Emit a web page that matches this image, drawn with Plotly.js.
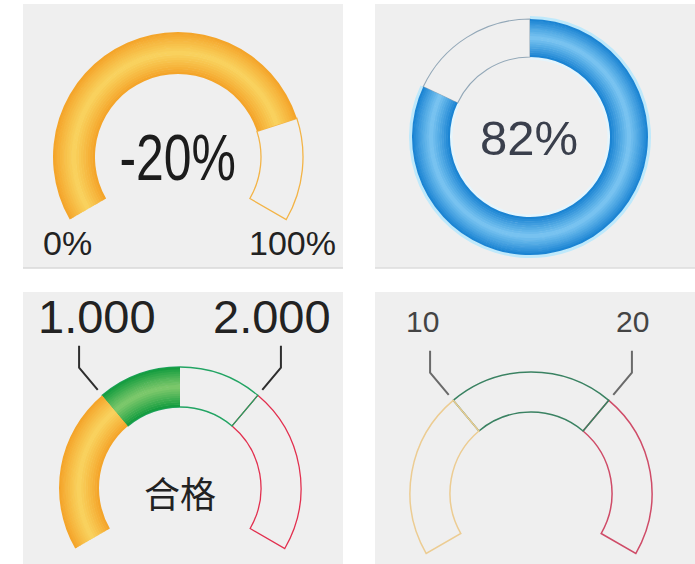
<!DOCTYPE html>
<html><head><meta charset="utf-8">
<script src="https://cdn.plot.ly/plotly-3.0.1.min.js"></script>
<style>html,body{margin:0;padding:0;background:#fff}#chart{width:695px;height:564px}</style>
</head><body><div id="chart"></div>
<script>
// ---------- data ----------
const g1Range = [0, 100];
const g1Value = [80];
const g1EndLabels = ['0%', '100%'];
const g1CenterText = ['-20%'];

const g2Range = [0, 100];
const g2Value = [82];
const g2CenterText = ['82%'];

const g3Range = [0, 3];
const g3Thresholds = [1, 2];
const g3Value = [1.5];
const g3TickLabels = ['1.000', '2.000'];
const g3CenterText = ['合格'];

const g4Range = [0, 30];
const g4Thresholds = [10, 20];
const g4TickLabels = ['10', '20'];

// ---------- geometry / style ----------
const W = 695, H = 564, ARC = 240, START = 210, EXT = 3;
const geo1 = {cx: 178, cy: 157, rIn: 83, rOut: 125};
const geo2 = {cx: 530, cy: 137, rIn: 80, rOut: 118};
const geo3 = {cx: 180, cy: 488, rIn: 81, rOut: 121};
const geo4 = {cx: 531, cy: 493, rIn: 81, rOut: 121};

function hex(c){return [parseInt(c.substr(1,2),16),parseInt(c.substr(3,2),16),parseInt(c.substr(5,2),16)];}
function mix(a,b,t){const A=hex(a),B=hex(b);return 'rgb('+A.map((v,i)=>Math.round(v+(B[i]-v)*t)).join(',')+')';}

function gradTrace(sub,a0,a1,rIn,rOut,edge,mid,n){
  n=n||18;
  const th=[],wd=[],bs=[],rr=[],cl=[];
  const step=(rOut-rIn)/n;
  for(let i=0;i<n;i++){
    const t=(i+0.5)/n;
    const k=Math.pow(1-Math.abs(2*t-1),0.9);
    th.push((a0+a1)/2); wd.push(a1-a0);
    bs.push(rIn+i*step); rr.push(i===n-1?step:step+0.6);
    cl.push(mix(edge,mid,k));
  }
  return {type:'barpolar',subplot:sub,theta:th,width:wd,base:bs,r:rr,
    marker:{color:cl,line:{width:0}},hoverinfo:'skip',showlegend:false};
}
function solidTrace(sub,a0,a1,rIn,rOut,color){
  return {type:'barpolar',subplot:sub,theta:[(a0+a1)/2],width:[a1-a0],base:[rIn],r:[rOut-rIn],
    marker:{color:color,line:{width:0}},hoverinfo:'skip',showlegend:false};
}
function outlineTrace(sub,a0,a1,rIn,rOut,color,w){
  return {type:'barpolar',subplot:sub,theta:[(a0+a1)/2],width:[a1-a0],base:[rIn],r:[rOut-rIn],
    marker:{color:'rgba(0,0,0,0)',line:{color:color,width:w}},hoverinfo:'skip',showlegend:false};
}
function arcAngle(v,range){return (v-range[0])/(range[1]-range[0])*ARC;}
function ringAngle(v,range){return (v-range[0])/(range[1]-range[0])*360;}

function arcPolar(g){
  const Rp=g.rOut+5, s=Math.sin((30+EXT)*Math.PI/180);
  return {
    domain:{x:[(g.cx-Rp)/W,(g.cx+Rp)/W],y:[1-(g.cy+Rp*s)/H,1-(g.cy-Rp)/H]},
    sector:[-30-EXT,210+EXT], bgcolor:'rgba(0,0,0,0)', barmode:'overlay', hole:0,
    angularaxis:{rotation:START,direction:'clockwise',visible:false,showgrid:false,showline:false,ticks:''},
    radialaxis:{visible:false,range:[0,Rp],autorange:false,showgrid:false,showline:false,ticks:''}
  };
}
function ringPolar(g){
  const Rp=g.rOut+6;
  return {
    domain:{x:[(g.cx-Rp)/W,(g.cx+Rp)/W],y:[1-(g.cy+Rp)/H,1-(g.cy-Rp)/H]},
    bgcolor:'rgba(0,0,0,0)', barmode:'overlay', hole:0,
    angularaxis:{rotation:90,direction:'clockwise',visible:false,showgrid:false,showline:false,ticks:''},
    radialaxis:{visible:false,range:[0,Rp],autorange:false,showgrid:false,showline:false,ticks:''}
  };
}

const ORANGE_E='#f4a126', ORANGE_M='#f9d460';
const GREEN_E='#0d9a3c', GREEN_M='#80c96c';
const BLUE_E='#137fd0', BLUE_M='#7cc6f2';

const traces=[];
// gauge 1
const a1v=arcAngle(g1Value[0],g1Range), a1max=arcAngle(g1Range[1],g1Range);
traces.push(outlineTrace('polar',a1v,a1max,geo1.rIn,geo1.rOut,'#f3b447',1.3));
traces.push(gradTrace('polar',0,a1v,geo1.rIn,geo1.rOut,ORANGE_E,ORANGE_M));

// gauge 2
const a2v=ringAngle(g2Value[0],g2Range);
traces.push(solidTrace('polar2',0,a2v,geo2.rOut-0.5,geo2.rOut+3,'#bfe9fb'));
traces.push(solidTrace('polar2',0,a2v,geo2.rIn-2.5,geo2.rIn+0.5,'#e4f5fd'));
traces.push(outlineTrace('polar2',a2v,360,geo2.rIn,geo2.rOut,'#93a8b8',1.1));
traces.push(gradTrace('polar2',0,a2v,geo2.rIn,geo2.rOut,BLUE_E,BLUE_M));

// gauge 3
const a3t1=arcAngle(g3Thresholds[0],g3Range), a3t2=arcAngle(g3Thresholds[1],g3Range);
const a3v=arcAngle(g3Value[0],g3Range), a3max=arcAngle(g3Range[1],g3Range);
traces.push(outlineTrace('polar3',a3t2,a3max,geo3.rIn,geo3.rOut,'#e2304f',1.3));
traces.push(outlineTrace('polar3',a3t1,a3t2,geo3.rIn,geo3.rOut,'#22a463',1.3));
traces.push(gradTrace('polar3',0,a3t1,geo3.rIn,geo3.rOut,ORANGE_E,ORANGE_M));
traces.push(gradTrace('polar3',a3t1,a3v,geo3.rIn,geo3.rOut,GREEN_E,GREEN_M));

// gauge 4
const a4t1=arcAngle(g4Thresholds[0],g4Range), a4t2=arcAngle(g4Thresholds[1],g4Range), a4max=arcAngle(g4Range[1],g4Range);
traces.push(outlineTrace('polar4',a4t2,a4max,geo4.rIn,geo4.rOut,'#cf4c68',1.5));
traces.push(outlineTrace('polar4',a4t1,a4t2,geo4.rIn,geo4.rOut,'#3a8262',1.5));
traces.push(outlineTrace('polar4',0,a4t1,geo4.rIn,geo4.rOut,'#eccc92',1.5));

// leader lines (computed from threshold angles)
function leader(g,angDeg,color){
  const sd=(START-angDeg)*Math.PI/180;
  const r1=g.rOut+7, r2=g.rOut+36;
  const x1=g.cx+r1*Math.cos(sd), y1=g.cy-r1*Math.sin(sd);
  const x2=g.cx+r2*Math.cos(sd), y2=g.cy-r2*Math.sin(sd);
  const y3=y2-22;
  const P=(x,y)=>(x/W).toFixed(5)+','+(1-y/H).toFixed(5);
  return {type:'path',xref:'paper',yref:'paper',path:'M'+P(x1,y1)+' L'+P(x2,y2)+' L'+P(x2,y3),
    line:{color:color,width:2}};
}
function rect(x0,y0,x1,y1){
  return {type:'rect',xref:'paper',yref:'paper',layer:'below',x0:x0/W,x1:x1/W,y0:1-y1/H,y1:1-y0/H,
    fillcolor:'#efefef',line:{width:0}};
}
const shapes=[
  rect(23,4,343,268), rect(375,4,695,268), rect(23,292,343,564), rect(375,292,695,564),
  {type:'line',xref:'paper',yref:'paper',layer:'below',x0:23/W,x1:343/W,y0:1-268/H,y1:1-268/H,line:{color:'#d9d9d9',width:1.5}},
  {type:'line',xref:'paper',yref:'paper',layer:'below',x0:375/W,x1:695/W,y0:1-268/H,y1:1-268/H,line:{color:'#dcdcdc',width:1.5}},
  leader(geo3,a3t1,'#2e2e2e'), leader(geo3,a3t2,'#2e2e2e'),
  leader(geo4,a4t1,'#6a6a6a'), leader(geo4,a4t2,'#6a6a6a')
];

const SANS='Liberation Sans, Arial, sans-serif';
function ann(text,x,y,size,color,family){
  return {text:text,xref:'paper',yref:'paper',x:x/W,y:1-y/H,xanchor:'center',yanchor:'middle',
    showarrow:false,font:{size:size,color:color,family:family||SANS}};
}
const annotations=[
  ann(g1CenterText[0],178,158,64,'#1c1c1c','Liberation Sans Narrow, Arial Narrow, Liberation Sans, sans-serif'),
  ann(g1EndLabels[0],67,243,34,'#222'),
  ann(g1EndLabels[1],292,243,34,'#222'),
  ann(g2CenterText[0],529,138,49,'#3a3f4c'),
  ann(g3TickLabels[0],97,316,47,'#222'),
  ann(g3TickLabels[1],272,316,47,'#222'),
  ann(g3CenterText[0],180,492,36,'#222','Noto Sans CJK SC, sans-serif'),
  ann(g4TickLabels[0],423,321,30,'#444'),
  ann(g4TickLabels[1],632,321,30,'#444')
];

const layout={
  width:W,height:H,margin:{l:0,r:0,t:0,b:0},paper_bgcolor:'#ffffff',showlegend:false,
  polar:arcPolar(geo1), polar2:ringPolar(geo2), polar3:arcPolar(geo3), polar4:arcPolar(geo4),
  shapes:shapes, annotations:annotations
};
Plotly.newPlot('chart',traces,layout,{displayModeBar:false,staticPlot:true}).then(function(gd){
  // condense the big centre value like the narrow face in the reference
  const t=gd.querySelector('.annotation[data-index="0"] text.annotation-text');
  if(t){
    t.style.transformBox='fill-box';
    t.style.transformOrigin='center';
    t.style.transform='scaleX(0.78)';
  }
});
</script></body></html>
